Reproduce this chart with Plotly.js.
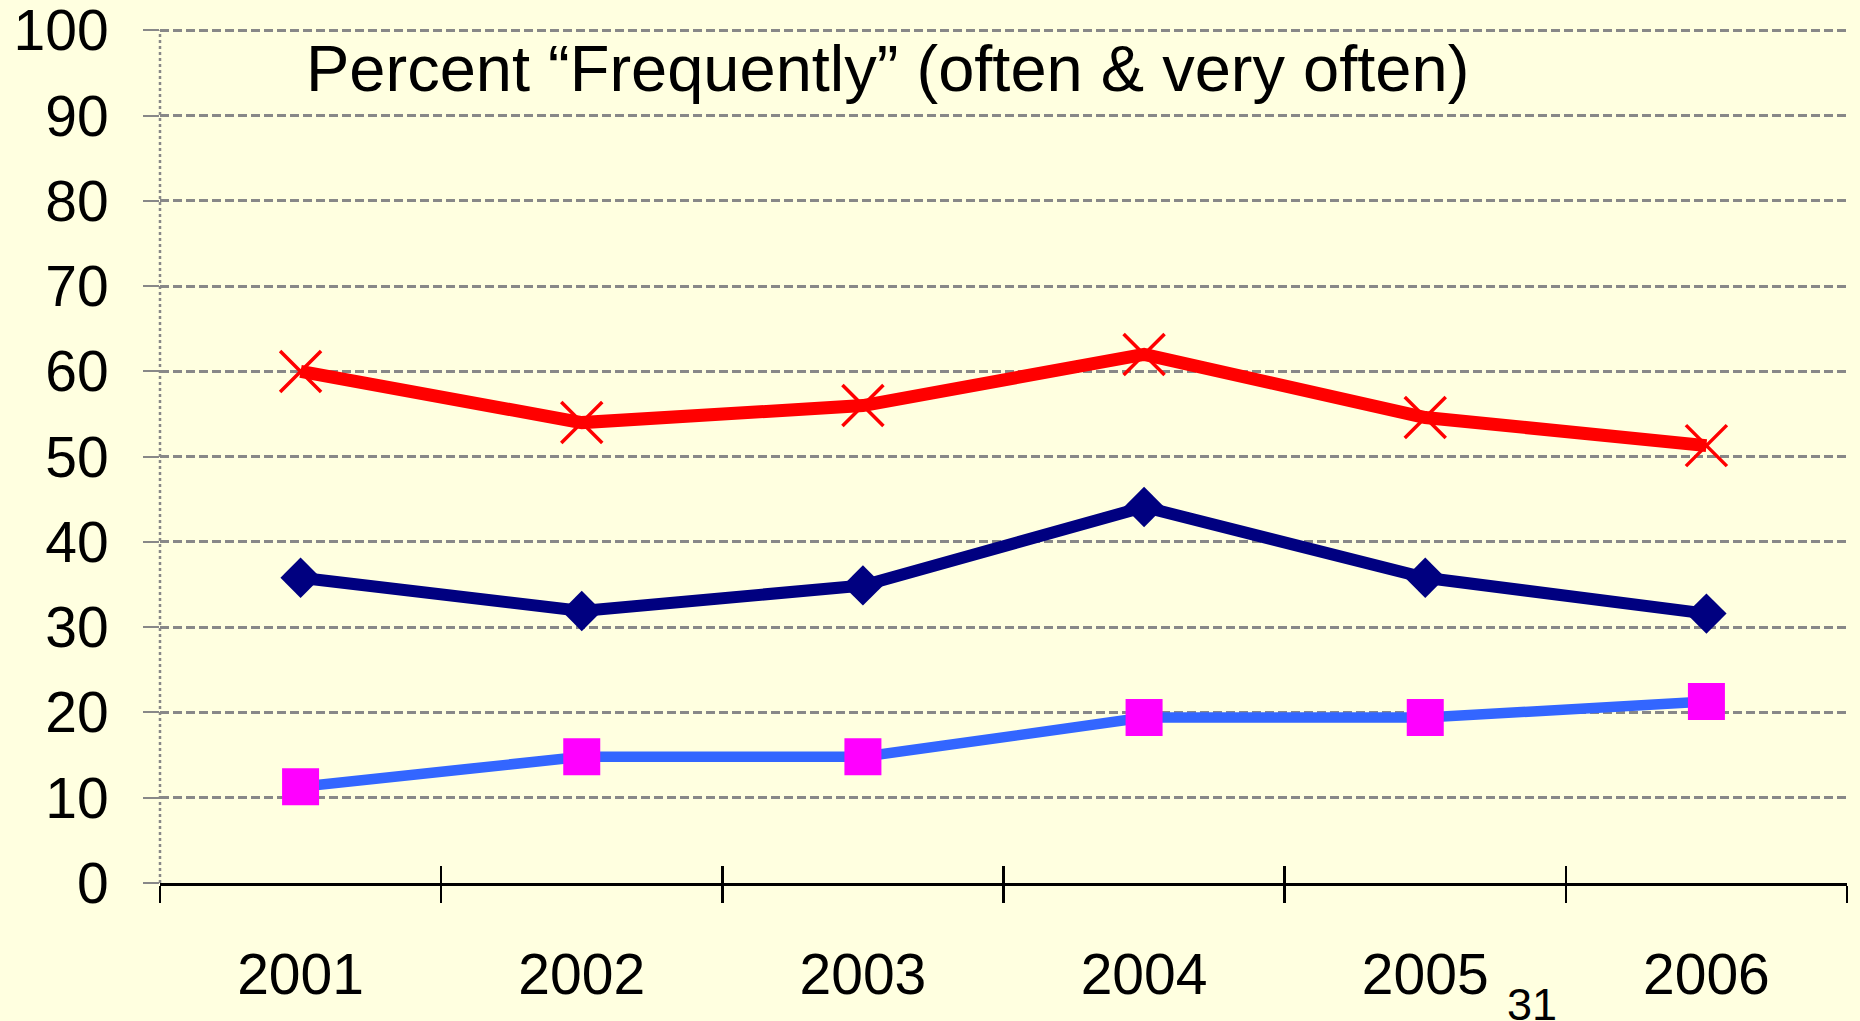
<!DOCTYPE html>
<html>
<head>
<meta charset="utf-8">
<script src="https://cdn.plot.ly/plotly-3.0.1.min.js"></script>
<style>
  html, body { margin: 0; padding: 0; background: #FFFFE0; }
  #chart { width: 1860px; height: 1021px; }
</style>
</head>
<body>
<div id="chart"></div>
<script>
// ---- data ----
const years = ['2001', '2002', '2003', '2004', '2005', '2006'];
const seriesRed = [60, 54, 56, 62, 54.6, 51.3];
const seriesNavy = [35.8, 31.9, 34.9, 44.1, 35.8, 31.6];
const seriesBlue = [11.3, 14.8, 14.8, 19.4, 19.4, 21.3];
const yTicks = [0, 10, 20, 30, 40, 50, 60, 70, 80, 90, 100];
const chartTitle = 'Percent \u201CFrequently\u201D (often & very often)';
const pageNumber = '31';

const FONT = 'Liberation Sans, Arial, sans-serif';
const BG = '#FFFFE0';

const boundaries = [];
for (let i = 0; i <= years.length; i++) boundaries.push(i - 0.5);
const yearIndex = years.map((_, i) => i);

const traces = [
  // carrier for the inner half of the category tick marks (draws nothing)
  {
    x: yearIndex, y: seriesBlue, xaxis: 'x2', yaxis: 'y', type: 'scatter', mode: 'none',
    hoverinfo: 'skip', showlegend: false
  },
  {
    x: years, y: seriesBlue, type: 'scatter', mode: 'lines+markers', name: 'Series 3',
    line: { color: '#3366FF', width: 10.5 },
    marker: { symbol: 'square', size: 37, color: '#FF00FF' }
  },
  {
    x: years, y: seriesNavy, type: 'scatter', mode: 'lines+markers', name: 'Series 2',
    line: { color: '#000080', width: 12 },
    marker: { symbol: 'diamond', size: 31, color: '#000080' }
  },
  {
    x: years, y: seriesRed, type: 'scatter', mode: 'lines+markers', name: 'Series 1',
    line: { color: '#FF0000', width: 13 },
    marker: { symbol: 'x-thin', size: 41, color: '#FF0000', line: { color: '#FF0000', width: 3.5 } }
  }
];

const layout = {
  width: 1860, height: 1021,
  paper_bgcolor: BG, plot_bgcolor: BG,
  margin: { l: 160, r: 13, t: 27, b: 138 },
  showlegend: false,
  font: { family: FONT, color: '#000000' },
  title: {
    text: chartTitle,
    font: { family: FONT, size: 65, color: '#000000' },
    x: 306 / 1860, xanchor: 'left', xref: 'container',
    y: 1 - 68 / 1021, yanchor: 'middle', yref: 'container'
  },
  xaxis: {
    type: 'category',
    range: [-0.5, years.length - 0.5],
    tickson: 'boundaries',
    ticks: 'outside', ticklen: 17, tickwidth: 2.5, tickcolor: '#000000',
    showline: true, linecolor: '#000000', linewidth: 3,
    showgrid: false, zeroline: false,
    tickfont: { family: FONT, size: 57, color: '#000000' },
    ticklabelstandoff: 40,
    fixedrange: true
  },
  xaxis2: {
    type: 'linear', overlaying: 'x', anchor: 'y', side: 'bottom',
    range: [-0.5, years.length - 0.5],
    tickmode: 'array', tickvals: boundaries,
    ticks: 'inside', ticklen: 17, tickwidth: 2.5, tickcolor: '#000000',
    showticklabels: false, showgrid: false, zeroline: false, showline: false,
    fixedrange: true
  },
  yaxis: {
    range: [0, 100.4],
    tickmode: 'array', tickvals: yTicks, ticktext: yTicks.map(String),
    ticks: 'outside', ticklen: 16, tickwidth: 2, tickcolor: '#888888',
    showgrid: true, gridcolor: '#888888', gridwidth: 3, griddash: '9px,4px',
    zeroline: false, showline: false,
    tickfont: { family: FONT, size: 57, color: '#000000' },
    ticklabelstandoff: 23,
    ticklabeloverflow: 'allow',
    fixedrange: true
  },
  shapes: [
    {
      type: 'line', xref: 'paper', yref: 'y', x0: 0, x1: 0, y0: 0, y1: 100,
      line: { color: '#888888', width: 2.5, dash: 'dot' }, layer: 'below'
    }
  ],
  annotations: [
    {
      text: pageNumber, xref: 'paper', yref: 'paper',
      x: (1532 - 160) / 1687, y: (883 - 1004) / 856,
      xanchor: 'center', yanchor: 'middle', showarrow: false,
      font: { family: FONT, size: 45, color: '#000000' }
    }
  ]
};

Plotly.newPlot('chart', traces, layout, { displayModeBar: false, staticPlot: true });
</script>
</body>
</html>
